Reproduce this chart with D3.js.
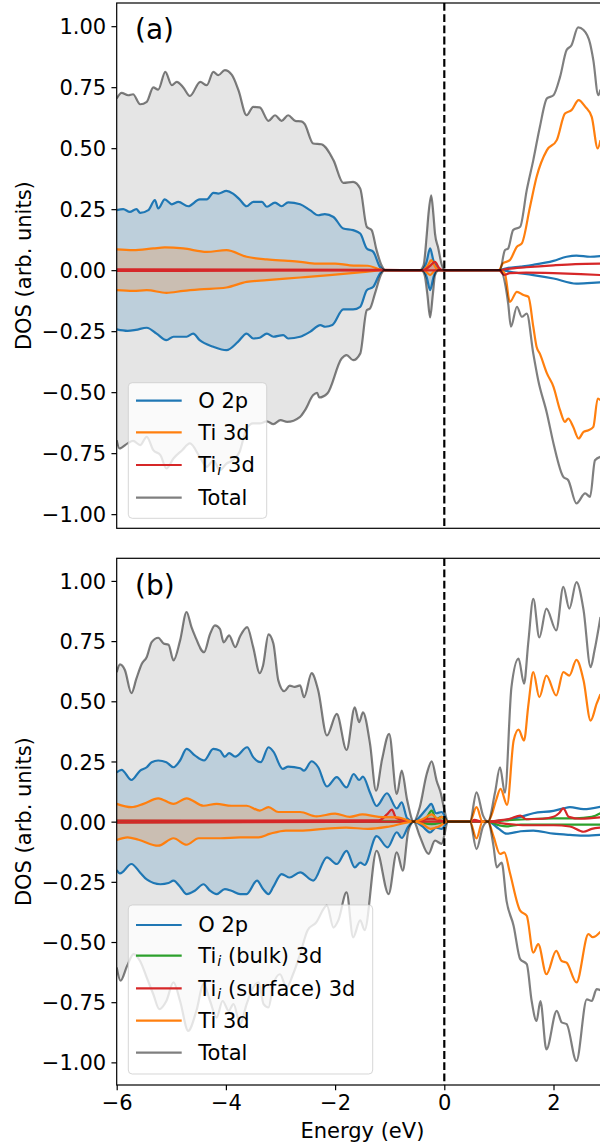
<!DOCTYPE html>
<html>
<head>
<meta charset="utf-8">
<script src="https://cdn.jsdelivr.net/npm/d3@7"></script>
<style>
  body { margin: 0; background: #fff; }
  svg { display: block; }
  text { font-family: "DejaVu Sans", sans-serif; fill: #000; }
</style>
</head>
<body>
<svg id="chart" width="600" height="1147"></svg>
<script>
// ---------- axis ticks ----------
const energyTicks = [-6, -4, -2, 0, 2];
const dosTicks = [-1.0, -0.75, -0.5, -0.25, 0.0, 0.25, 0.5, 0.75, 1.0];
const fermiLevel = 0;

// ---------- panel (a): [energy (eV), DOS] pairs, spin-down stored as negative ----------
const a_O2p_up = [[-6.00,0.246],[-5.88,0.250],[-5.76,0.239],[-5.64,0.250],[-5.57,0.235],[-5.42,0.246],[-5.30,0.287],[-5.24,0.253],[-5.12,0.290],[-4.99,0.270],[-4.87,0.280],[-4.69,0.262],[-4.48,0.290],[-4.35,0.290],[-4.23,0.317],[-4.14,0.314],[-3.99,0.325],[-3.87,0.314],[-3.75,0.290],[-3.62,0.262],[-3.50,0.280],[-3.34,0.280],[-3.25,0.260],[-3.10,0.277],[-2.98,0.262],[-2.86,0.278],[-2.64,0.270],[-2.46,0.246],[-2.31,0.225],[-2.19,0.230],[-2.03,0.218],[-1.85,0.171],[-1.67,0.164],[-1.54,0.150],[-1.42,0.089],[-1.30,0.075],[-1.18,0.014],[-1.10,0.000],[-0.42,0.000],[-0.33,0.030],[-0.26,0.089],[-0.20,0.040],[-0.14,0.010],[-0.08,0.000],[1.00,0.000],[1.14,0.008],[1.40,0.015],[1.63,0.022],[2.00,0.038],[2.24,0.055],[2.42,0.060],[2.67,0.055],[2.86,0.058]];
const a_O2p_dn = [[-6.00,-0.243],[-5.80,-0.249],[-5.65,-0.245],[-5.45,-0.236],[-5.27,-0.260],[-5.09,-0.287],[-4.96,-0.273],[-4.72,-0.273],[-4.60,-0.260],[-4.48,-0.287],[-4.23,-0.314],[-3.99,-0.328],[-3.78,-0.294],[-3.62,-0.260],[-3.50,-0.280],[-3.38,-0.277],[-3.25,-0.260],[-3.13,-0.273],[-2.95,-0.266],[-2.86,-0.280],[-2.64,-0.273],[-2.46,-0.253],[-2.27,-0.225],[-2.18,-0.232],[-2.05,-0.225],[-1.85,-0.161],[-1.67,-0.161],[-1.54,-0.150],[-1.42,-0.082],[-1.30,-0.068],[-1.18,-0.014],[-1.10,0.000],[-0.40,0.000],[-0.32,-0.030],[-0.26,-0.082],[-0.20,-0.030],[-0.14,0.000],[1.00,0.000],[1.30,-0.010],[1.63,-0.020],[2.00,-0.034],[2.42,-0.055],[2.70,-0.052],[2.86,-0.050]];
const a_Ti3d_up = [[-6.00,0.085],[-5.70,0.082],[-5.33,0.089],[-5.12,0.093],[-4.78,0.089],[-4.35,0.075],[-3.99,0.082],[-3.62,0.055],[-3.25,0.044],[-2.86,0.038],[-2.64,0.034],[-2.34,0.027],[-2.00,0.027],[-1.73,0.020],[-1.40,0.018],[-1.10,0.000],[-0.40,0.000],[-0.30,0.020],[-0.24,0.041],[-0.17,0.015],[-0.10,0.000],[1.00,0.000],[1.07,0.027],[1.20,0.041],[1.33,0.096],[1.42,0.110],[1.57,0.260],[1.69,0.382],[1.88,0.492],[2.06,0.533],[2.21,0.642],[2.33,0.656],[2.46,0.697],[2.58,0.670],[2.70,0.628],[2.81,0.499],[2.86,0.533]];
const a_Ti3d_dn = [[-6.00,-0.082],[-5.70,-0.085],[-5.45,-0.082],[-5.09,-0.093],[-4.78,-0.085],[-4.48,-0.079],[-3.99,-0.071],[-3.62,-0.048],[-3.25,-0.041],[-2.64,-0.030],[-2.10,-0.020],[-1.50,-0.008],[-1.10,0.000],[-0.38,0.000],[-0.26,-0.020],[-0.16,0.000],[1.02,0.000],[1.11,-0.014],[1.20,-0.130],[1.33,-0.089],[1.45,-0.102],[1.54,-0.109],[1.63,-0.232],[1.69,-0.314],[1.75,-0.342],[1.88,-0.423],[2.00,-0.478],[2.12,-0.574],[2.21,-0.622],[2.27,-0.608],[2.36,-0.642],[2.46,-0.690],[2.55,-0.663],[2.64,-0.656],[2.73,-0.642],[2.81,-0.526],[2.86,-0.533]];
const a_Tii_up = [[-6.00,0.003],[-1.10,0.001],[-0.38,0.000],[-0.25,0.020],[-0.17,0.034],[-0.10,0.010],[-0.03,0.000],[1.00,0.000],[1.15,0.005],[1.50,0.012],[2.00,0.020],[2.40,0.025],[2.86,0.027]];
const a_Tii_dn = [[-6.00,-0.003],[-1.10,-0.001],[1.00,0.000],[1.10,-0.020],[1.20,-0.012],[1.50,-0.010],[2.00,-0.012],[2.50,-0.016],[2.86,-0.020]];
const a_total_up = [[-6.00,0.704],[-5.91,0.727],[-5.79,0.717],[-5.70,0.721],[-5.57,0.680],[-5.45,0.690],[-5.33,0.749],[-5.24,0.740],[-5.11,0.813],[-4.99,0.758],[-4.90,0.772],[-4.78,0.749],[-4.66,0.714],[-4.47,0.772],[-4.35,0.758],[-4.23,0.813],[-4.14,0.799],[-4.02,0.820],[-3.89,0.800],[-3.77,0.738],[-3.62,0.635],[-3.50,0.669],[-3.38,0.667],[-3.22,0.612],[-3.10,0.635],[-2.98,0.612],[-2.86,0.635],[-2.73,0.612],[-2.62,0.610],[-2.56,0.600],[-2.40,0.519],[-2.25,0.516],[-2.03,0.451],[-1.85,0.358],[-1.67,0.362],[-1.54,0.335],[-1.42,0.178],[-1.33,0.164],[-1.24,0.082],[-1.15,0.020],[-1.08,0.000],[-0.45,0.000],[-0.38,0.020],[-0.32,0.150],[-0.29,0.230],[-0.24,0.307],[-0.20,0.230],[-0.17,0.150],[-0.11,0.090],[-0.05,0.025],[0.00,0.000],[1.02,0.000],[1.11,0.082],[1.17,0.089],[1.26,0.164],[1.39,0.178],[1.51,0.328],[1.63,0.451],[1.75,0.587],[1.88,0.704],[2.00,0.717],[2.12,0.792],[2.24,0.902],[2.33,0.922],[2.45,0.995],[2.55,0.984],[2.67,0.929],[2.73,0.860],[2.82,0.717],[2.86,0.740]];
const a_total_dn = [[-6.00,-0.697],[-5.95,-0.731],[-5.80,-0.710],[-5.70,-0.700],[-5.57,-0.717],[-5.45,-0.683],[-5.33,-0.738],[-5.20,-0.758],[-5.09,-0.813],[-4.96,-0.772],[-4.80,-0.738],[-4.66,-0.710],[-4.48,-0.765],[-4.35,-0.806],[-4.23,-0.779],[-4.11,-0.820],[-3.99,-0.793],[-3.87,-0.779],[-3.75,-0.745],[-3.62,-0.649],[-3.50,-0.628],[-3.38,-0.628],[-3.25,-0.620],[-3.13,-0.631],[-3.00,-0.615],[-2.88,-0.622],[-2.64,-0.601],[-2.55,-0.574],[-2.40,-0.512],[-2.33,-0.503],[-2.29,-0.522],[-2.14,-0.505],[-1.88,-0.362],[-1.79,-0.348],[-1.67,-0.369],[-1.54,-0.342],[-1.42,-0.164],[-1.36,-0.157],[-1.27,-0.096],[-1.15,-0.014],[-1.10,0.000],[-0.42,0.000],[-0.36,-0.020],[-0.31,-0.100],[-0.26,-0.194],[-0.21,-0.100],[-0.17,-0.020],[-0.10,0.000],[1.02,0.000],[1.17,-0.137],[1.22,-0.232],[1.33,-0.150],[1.42,-0.191],[1.51,-0.178],[1.63,-0.342],[1.72,-0.451],[1.88,-0.587],[2.00,-0.710],[2.18,-0.847],[2.27,-0.861],[2.42,-0.956],[2.58,-0.915],[2.67,-0.929],[2.76,-0.779],[2.86,-0.765]];

// ---------- panel (b) ----------
const b_O2p_up = [[-6.00,0.205],[-5.91,0.215],[-5.73,0.173],[-5.57,0.212],[-5.45,0.226],[-5.36,0.247],[-5.24,0.254],[-5.09,0.247],[-4.96,0.226],[-4.84,0.254],[-4.72,0.302],[-4.57,0.275],[-4.40,0.254],[-4.23,0.302],[-4.11,0.295],[-4.02,0.270],[-3.94,0.285],[-3.83,0.270],[-3.61,0.309],[-3.50,0.268],[-3.36,0.247],[-3.22,0.309],[-3.13,0.291],[-2.96,0.219],[-2.86,0.229],[-2.64,0.222],[-2.57,0.212],[-2.43,0.251],[-2.31,0.226],[-2.15,0.146],[-1.97,0.185],[-1.79,0.142],[-1.66,0.198],[-1.56,0.173],[-1.49,0.187],[-1.36,0.120],[-1.24,0.065],[-1.05,0.118],[-0.87,0.055],[-0.78,0.080],[-0.68,0.014],[-0.56,0.000],[-0.45,0.020],[-0.30,0.060],[-0.24,0.074],[-0.15,0.035],[-0.05,0.040],[0.07,0.000],[0.80,0.000],[1.10,0.007],[1.40,0.020],[1.63,0.035],[2.00,0.045],[2.18,0.055],[2.30,0.060],[2.55,0.052],[2.86,0.062]];
const b_O2p_dn = [[-6.00,-0.201],[-5.94,-0.215],[-5.73,-0.176],[-5.57,-0.212],[-5.45,-0.240],[-5.20,-0.260],[-5.05,-0.255],[-4.96,-0.245],[-4.84,-0.270],[-4.72,-0.301],[-4.57,-0.287],[-4.41,-0.260],[-4.29,-0.287],[-4.17,-0.301],[-4.02,-0.280],[-3.90,-0.287],[-3.74,-0.301],[-3.62,-0.301],[-3.43,-0.245],[-3.32,-0.280],[-3.22,-0.301],[-3.13,-0.270],[-2.98,-0.218],[-2.83,-0.232],[-2.64,-0.211],[-2.40,-0.245],[-2.15,-0.148],[-1.97,-0.176],[-1.79,-0.121],[-1.64,-0.190],[-1.54,-0.170],[-1.46,-0.180],[-1.24,-0.060],[-1.04,-0.107],[-0.87,-0.044],[-0.78,-0.068],[-0.66,-0.020],[-0.56,0.000],[-0.40,-0.020],[-0.26,-0.045],[-0.15,-0.025],[-0.05,-0.030],[0.07,0.000],[0.80,0.000],[1.00,-0.030],[1.14,-0.050],[1.40,-0.040],[1.63,-0.037],[2.00,-0.050],[2.30,-0.055],[2.60,-0.058],[2.86,-0.055]];
const b_bulk_up = [[-6.00,0.003],[-0.56,0.000],[-0.35,0.010],[-0.23,0.046],[-0.15,0.010],[-0.05,0.020],[0.07,0.000],[0.80,0.000],[1.10,0.005],[1.50,0.010],[2.00,0.014],[2.40,0.014],[2.70,0.020],[2.86,0.035]];
const b_bulk_dn = [[-6.00,-0.002],[-0.56,0.000],[-0.23,-0.010],[0.07,0.000],[0.80,0.000],[1.00,-0.015],[1.14,-0.020],[1.40,-0.012],[2.00,-0.012],[2.86,-0.012]];
const b_surf_up = [[-6.00,0.004],[-1.20,0.005],[-1.05,0.030],[-0.96,0.050],[-0.88,0.015],[-0.70,0.005],[-0.56,0.000],[-0.25,0.012],[0.07,0.000],[0.47,0.000],[0.55,0.007],[0.70,0.000],[0.80,0.000],[1.00,0.005],[1.20,0.012],[1.39,0.025],[1.50,0.010],[1.80,0.012],[2.00,0.020],[2.10,0.035],[2.18,0.055],[2.28,0.020],[2.50,0.012],[2.86,0.018]];
const b_surf_dn = [[-6.00,-0.004],[-0.56,0.000],[0.80,0.000],[1.10,-0.008],[1.50,-0.015],[2.00,-0.015],[2.30,-0.020],[2.55,-0.042],[2.70,-0.030],[2.86,-0.025]];
const b_Ti3d_up = [[-6.00,0.074],[-5.73,0.060],[-5.51,0.074],[-5.24,0.097],[-4.96,0.074],[-4.72,0.097],[-4.41,0.066],[-4.17,0.074],[-3.90,0.066],[-3.62,0.066],[-3.38,0.046],[-3.22,0.060],[-3.04,0.040],[-2.64,0.040],[-2.34,0.022],[-2.00,0.033],[-1.73,0.020],[-1.50,0.030],[-1.20,0.020],[-0.85,0.018],[-0.56,0.000],[-0.40,0.010],[-0.23,0.030],[-0.12,0.012],[-0.04,0.020],[0.07,0.000],[0.47,0.000],[0.59,0.060],[0.70,0.000],[0.80,0.000],[0.87,0.030],[0.95,0.090],[1.03,0.136],[1.15,0.070],[1.27,0.337],[1.36,0.382],[1.46,0.337],[1.54,0.485],[1.63,0.621],[1.74,0.517],[1.87,0.607],[2.05,0.524],[2.18,0.621],[2.29,0.607],[2.42,0.672],[2.55,0.587],[2.68,0.420],[2.79,0.490],[2.86,0.530]];
const b_Ti3d_dn = [[-6.00,-0.076],[-5.80,-0.065],[-5.60,-0.075],[-5.24,-0.100],[-4.96,-0.069],[-4.72,-0.096],[-4.50,-0.069],[-4.10,-0.069],[-3.74,-0.065],[-3.40,-0.065],[-3.20,-0.051],[-2.90,-0.037],[-2.64,-0.037],[-2.20,-0.030],[-1.80,-0.025],[-1.40,-0.030],[-1.00,-0.020],[-0.56,0.000],[-0.40,-0.010],[-0.25,-0.030],[-0.10,-0.020],[0.07,0.000],[0.47,0.000],[0.59,-0.070],[0.70,0.000],[0.80,0.000],[0.90,-0.060],[1.02,-0.134],[1.10,-0.128],[1.20,-0.211],[1.39,-0.370],[1.51,-0.391],[1.63,-0.544],[1.72,-0.509],[1.87,-0.634],[2.05,-0.537],[2.15,-0.579],[2.24,-0.586],[2.42,-0.668],[2.64,-0.467],[2.72,-0.480],[2.86,-0.457]];
const b_total_up = [[-6.00,0.621],[-5.94,0.653],[-5.85,0.630],[-5.73,0.534],[-5.64,0.594],[-5.54,0.656],[-5.45,0.684],[-5.36,0.746],[-5.24,0.764],[-5.14,0.740],[-5.05,0.735],[-4.96,0.670],[-4.84,0.752],[-4.72,0.871],[-4.63,0.808],[-4.57,0.774],[-4.40,0.704],[-4.29,0.780],[-4.20,0.815],[-4.11,0.801],[-4.04,0.745],[-3.94,0.774],[-3.83,0.725],[-3.74,0.770],[-3.61,0.808],[-3.50,0.725],[-3.38,0.617],[-3.32,0.649],[-3.22,0.778],[-3.13,0.740],[-3.04,0.587],[-2.93,0.542],[-2.83,0.565],[-2.74,0.560],[-2.64,0.566],[-2.57,0.517],[-2.43,0.617],[-2.31,0.546],[-2.15,0.358],[-1.97,0.448],[-1.79,0.298],[-1.64,0.475],[-1.56,0.413],[-1.49,0.454],[-1.36,0.323],[-1.25,0.129],[-1.14,0.259],[-1.01,0.365],[-0.87,0.115],[-0.78,0.212],[-0.68,0.090],[-0.56,0.000],[-0.45,0.060],[-0.32,0.200],[-0.23,0.250],[-0.14,0.170],[-0.06,0.115],[0.00,0.050],[0.07,0.000],[0.47,0.000],[0.59,0.122],[0.71,0.025],[0.80,0.000],[0.93,0.122],[1.02,0.226],[1.11,0.120],[1.23,0.559],[1.36,0.677],[1.46,0.573],[1.54,0.749],[1.63,0.926],[1.74,0.765],[1.87,0.885],[2.05,0.795],[2.18,0.975],[2.29,0.885],[2.42,0.995],[2.55,0.880],[2.68,0.642],[2.75,0.710],[2.86,0.850]];
const b_total_dn = [[-6.00,-0.606],[-5.93,-0.661],[-5.81,-0.600],[-5.69,-0.550],[-5.57,-0.580],[-5.45,-0.648],[-5.33,-0.717],[-5.22,-0.779],[-5.09,-0.745],[-4.96,-0.668],[-4.84,-0.745],[-4.69,-0.869],[-4.54,-0.786],[-4.41,-0.675],[-4.29,-0.745],[-4.17,-0.814],[-4.06,-0.745],[-3.95,-0.786],[-3.86,-0.758],[-3.74,-0.842],[-3.62,-0.758],[-3.50,-0.689],[-3.40,-0.668],[-3.31,-0.758],[-3.22,-0.772],[-3.13,-0.675],[-3.01,-0.634],[-2.89,-0.689],[-2.77,-0.634],[-2.64,-0.550],[-2.50,-0.450],[-2.35,-0.420],[-2.15,-0.349],[-2.03,-0.440],[-1.94,-0.410],[-1.79,-0.294],[-1.67,-0.481],[-1.54,-0.410],[-1.46,-0.451],[-1.24,-0.121],[-1.02,-0.301],[-0.87,-0.128],[-0.76,-0.204],[-0.66,-0.040],[-0.56,0.000],[-0.45,-0.060],[-0.29,-0.134],[-0.17,-0.079],[-0.05,-0.092],[0.07,0.000],[0.47,0.000],[0.59,-0.114],[0.71,-0.020],[0.80,0.000],[0.90,-0.100],[0.96,-0.190],[1.05,-0.170],[1.14,-0.329],[1.27,-0.433],[1.39,-0.571],[1.51,-0.592],[1.60,-0.745],[1.69,-0.828],[1.76,-0.745],[1.87,-0.946],[2.06,-0.786],[2.15,-0.834],[2.24,-0.841],[2.42,-0.994],[2.61,-0.738],[2.70,-0.745],[2.79,-0.696],[2.86,-0.700]];

// ---------- styling ----------
const C_O2p = "#1f77b4", C_Ti3d = "#ff7f0e", C_bulk = "#2ca02c", C_surf = "#d62728", C_Tii = "#d62728";
const FONT = 21, LW = 2.2;

// series in plotting / legend order; label is a list of [text, isSubscript]
const panels = [
  {
    tag: "(a)", top: 3, bottom: 528.3, yDomain: [-1.058, 1.095], xTicks: false,
    series: [
      { label: [["O 2p", false]], color: C_O2p, up: a_O2p_up, dn: a_O2p_dn },
      { label: [["Ti 3d", false]], color: C_Ti3d, up: a_Ti3d_up, dn: a_Ti3d_dn },
      { label: [["Ti", false], ["i", true], [" 3d", false]], color: C_Tii, up: a_Tii_up, dn: a_Tii_dn },
      { label: [["Total", false]], color: "#000", alpha: 0.5, fill: 0.1, up: a_total_up, dn: a_total_dn }
    ],
    legend: { x: 128.3, y: 382.7, w: 138.4, h: 135.6, rows: [400.7, 432.3, 465.0, 497.7] }
  },
  {
    tag: "(b)", top: 558.3, bottom: 1085, yDomain: [-1.094, 1.094], xTicks: true,
    series: [
      { label: [["O 2p", false]], color: C_O2p, up: b_O2p_up, dn: b_O2p_dn },
      { label: [["Ti", false], ["i", true], [" (bulk) 3d", false]], color: C_bulk, up: b_bulk_up, dn: b_bulk_dn },
      { label: [["Ti", false], ["i", true], [" (surface) 3d", false]], color: C_surf, up: b_surf_up, dn: b_surf_dn },
      { label: [["Ti 3d", false]], color: C_Ti3d, up: b_Ti3d_up, dn: b_Ti3d_dn },
      { label: [["Total", false]], color: "#000", alpha: 0.5, fill: 0.1, up: b_total_up, dn: b_total_dn }
    ],
    legend: { x: 128.3, y: 905, w: 244.4, h: 169, rows: [925.0, 955.7, 988.3, 1020.7, 1052.7] }
  }
];

const svg = d3.select("#chart");
const x = d3.scaleLinear().domain([-6, 3]).range([116.7, 608.1]);
const defs = svg.append("defs");

panels.forEach((p, i) => {
  const y = d3.scaleLinear().domain(p.yDomain).range([p.bottom, p.top]);
  const g = svg.append("g");
  const x0 = x.range()[0], x1 = x.range()[1];

  // whole axes box
  defs.append("clipPath").attr("id", "clip" + i)
    .append("rect").attr("x", x0).attr("y", p.top)
    .attr("width", x1 - x0).attr("height", p.bottom - p.top);
  // occupied states only (below the Fermi level) are shaded
  defs.append("clipPath").attr("id", "occ" + i)
    .append("rect").attr("x", x0).attr("y", p.top)
    .attr("width", x(fermiLevel) - x0).attr("height", p.bottom - p.top);

  const plot = g.append("g").attr("clip-path", `url(#clip${i})`);
  const shade = plot.append("g").attr("clip-path", `url(#occ${i})`);
  const area = d3.area().x(d => x(d[0])).y0(y(0)).y1(d => y(d[1])).curve(d3.curveMonotoneX);
  const line = d3.line().x(d => x(d[0])).y(d => y(d[1])).curve(d3.curveMonotoneX);

  // shaded areas: total underneath, projected DOS on top of it
  const fillOrder = [p.series[p.series.length - 1], ...p.series.slice(0, -1)];
  fillOrder.forEach(s => {
    [s.up, s.dn].forEach(d => {
      shade.append("path").datum(d).attr("d", area)
        .attr("fill", s.color).attr("fill-opacity", s.fill ?? 0.2).attr("stroke", "none");
    });
  });

  // curves
  p.series.forEach(s => {
    [s.up, s.dn].forEach(d => {
      plot.append("path").datum(d).attr("d", line)
        .attr("fill", "none").attr("stroke", s.color)
        .attr("stroke-opacity", s.alpha ?? 1).attr("stroke-width", LW)
        .attr("stroke-linejoin", "round");
    });
  });

  // Fermi level
  plot.append("line")
    .attr("x1", x(fermiLevel)).attr("x2", x(fermiLevel)).attr("y1", p.top).attr("y2", p.bottom)
    .attr("stroke", "#000").attr("stroke-width", LW).attr("stroke-dasharray", "7.8,3.4");

  // y axis
  const yAxis = d3.axisLeft(y).tickValues(dosTicks).tickSize(5.25).tickPadding(5.25)
    .tickFormat(d3.format(".2f"));
  const ya = g.append("g").attr("transform", `translate(${x0},0)`).call(yAxis);
  ya.select(".domain").remove();
  ya.selectAll(".tick line").attr("stroke", "#000").attr("stroke-width", 1.2);
  ya.selectAll(".tick text").attr("font-size", FONT).attr("font-family", "DejaVu Sans")
    .attr("dy", "0.36em").attr("fill", "#000");

  // x axis (bottom panel only)
  if (p.xTicks) {
    const xAxis = d3.axisBottom(x).tickValues(energyTicks).tickSize(5.25).tickPadding(5.25)
      .tickFormat(d3.format("d"));
    const xa = g.append("g").attr("transform", `translate(0,${p.bottom})`).call(xAxis);
    xa.select(".domain").remove();
    xa.selectAll(".tick line").attr("stroke", "#000").attr("stroke-width", 1.2);
    xa.selectAll(".tick text").attr("font-size", FONT).attr("font-family", "DejaVu Sans")
      .attr("fill", "#000");
    g.append("text").attr("x", (x0 + x1) / 2).attr("y", 1138)
      .attr("text-anchor", "middle").attr("font-size", FONT).text("Energy (eV)");
  }

  // spines
  g.append("rect")
    .attr("x", x0).attr("y", p.top)
    .attr("width", x1 - x0).attr("height", p.bottom - p.top)
    .attr("fill", "none").attr("stroke", "#000").attr("stroke-width", 1.2);

  // y label
  g.append("text")
    .attr("transform", `translate(31,${(p.top + p.bottom) / 2}) rotate(-90)`)
    .attr("text-anchor", "middle").attr("font-size", FONT).text("DOS (arb. units)");

  // panel tag
  g.append("text").attr("x", 135).attr("y", p.top + 36.4).attr("font-size", 28).text(p.tag);

  // legend
  const L = p.legend;
  const lg = g.append("g");
  lg.append("rect").attr("x", L.x).attr("y", L.y).attr("width", L.w).attr("height", L.h)
    .attr("rx", 4).attr("ry", 4)
    .attr("fill", "#fff").attr("fill-opacity", 0.8)
    .attr("stroke", "#cccccc").attr("stroke-opacity", 0.8).attr("stroke-width", 1);
  p.series.forEach((s, k) => {
    const ry = L.rows[k];
    lg.append("line").attr("x1", 136).attr("x2", 181.7).attr("y1", ry).attr("y2", ry)
      .attr("stroke", s.color).attr("stroke-opacity", s.alpha ?? 1).attr("stroke-width", LW);
    const t = lg.append("text").attr("x", 198.3).attr("y", ry + 7.4).attr("font-size", FONT);
    let shifted = false;
    s.label.forEach(([txt, sub]) => {
      const ts = t.append("tspan").text(txt);
      if (sub) {
        ts.attr("font-size", 14.5).attr("font-style", "italic").attr("dy", 3).attr("dx", 1);
        shifted = true;
      } else if (shifted) {
        ts.attr("dy", -3);
        shifted = false;
      }
    });
  });
});
</script>
</body>
</html>
